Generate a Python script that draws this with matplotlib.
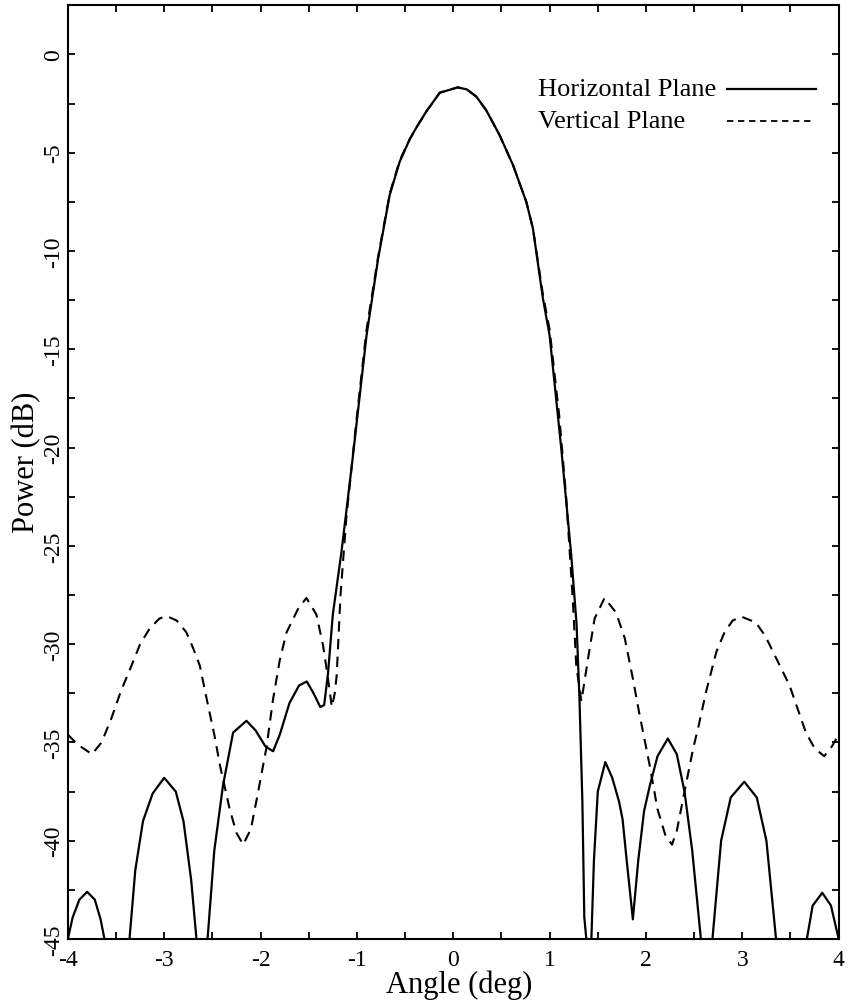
import matplotlib
matplotlib.use("Agg")
import matplotlib.pyplot as plt
from matplotlib.lines import Line2D
from matplotlib.ticker import MultipleLocator

plt.rcParams["font.family"] = ["Liberation Serif", "DejaVu Serif"]
plt.rcParams["axes.unicode_minus"] = False

# Horizontal plane pattern (solid)
horiz_angle = [-4.00, -3.95, -3.88, -3.80, -3.72, -3.66, -3.62, -3.55, -3.36, -3.30,
               -3.22, -3.12, -3.00, -2.88, -2.80, -2.72, -2.665, -2.60, -2.55, -2.48,
               -2.39, -2.285, -2.146, -2.05, -1.95, -1.87, -1.80, -1.70, -1.60, -1.52,
               -1.45, -1.38, -1.34, -1.30, -1.25, -1.16, -1.05, -0.90, -0.78, -0.66,
               -0.556, -0.45, -0.38, -0.279, -0.14, 0.046, 0.14, 0.24, 0.343, 0.48,
               0.62, 0.758, 0.827, 0.93, 1.00, 1.12, 1.225, 1.28, 1.31, 1.34,
               1.36, 1.42, 1.46, 1.50, 1.578, 1.65, 1.72, 1.757, 1.80, 1.864,
               1.92, 1.98, 2.04, 2.12, 2.227, 2.32, 2.40, 2.48, 2.57, 2.63,
               2.69, 2.78, 2.88, 3.02, 3.15, 3.25, 3.35, 3.50, 3.67, 3.73,
               3.83, 3.92, 4.00]
horiz_power = [-45.0, -43.9, -43.0, -42.6, -43.0, -44.0, -45.0, -48.0, -45.0, -41.5,
               -39.0, -37.6, -36.8, -37.5, -39.0, -42.0, -45.0, -50.0, -45.0, -40.5,
               -37.2, -34.5, -33.9, -34.4, -35.2, -35.45, -34.6, -33.0, -32.1, -31.9,
               -32.5, -33.2, -33.1, -31.5, -28.5, -25.3, -20.8, -14.3, -10.4, -7.16,
               -5.46, -4.3, -3.7, -2.9, -1.95, -1.68, -1.78, -2.15, -2.85, -4.1,
               -5.63, -7.5, -8.86, -12.4, -14.3, -20.0, -25.5, -29.0, -32.8, -38.0,
               -43.9, -47.0, -41.0, -37.5, -36.0, -36.8, -38.0, -38.9, -41.0, -44.0,
               -41.0, -38.5, -37.2, -35.7, -34.8, -35.6, -37.5, -40.5, -45.0, -50.0,
               -45.0, -40.0, -37.8, -37.0, -37.8, -40.0, -45.0, -50.0, -45.0, -43.3,
               -42.65, -43.3, -45.0]

# Vertical plane pattern (dashed)
vert_angle = [-4.00, -3.90, -3.75, -3.65, -3.55, -3.45, -3.34, -3.25, -3.15, -3.05,
              -2.976, -2.87, -2.77, -2.70, -2.63, -2.55, -2.48, -2.42, -2.32, -2.25,
              -2.18, -2.10, -2.04, -1.94, -1.87, -1.80, -1.73, -1.61, -1.524, -1.42,
              -1.35, -1.30, -1.26, -1.23, -1.21, -1.17, -1.11, -1.00, -0.90, -0.78,
              -0.66, -0.556, -0.45, -0.38, -0.279, -0.14, 0.046, 0.14, 0.24, 0.343,
              0.48, 0.62, 0.758, 0.827, 0.93, 1.00, 1.10, 1.173, 1.24, 1.277,
              1.33, 1.40, 1.467, 1.57, 1.69, 1.78, 1.864, 1.93, 2.04, 2.12,
              2.20, 2.27, 2.32, 2.38, 2.49, 2.54, 2.625, 2.73, 2.815, 2.90,
              2.99, 3.14, 3.24, 3.32, 3.49, 3.66, 3.75, 3.85, 3.93, 4.00]
vert_power = [-34.6, -35.1, -35.6, -35.0, -33.8, -32.4, -31.1, -30.0, -29.2, -28.7,
              -28.57, -28.8, -29.4, -30.2, -31.1, -33.0, -34.6, -36.2, -38.4, -39.6,
              -40.2, -39.4, -37.9, -35.3, -32.8, -30.8, -29.4, -28.2, -27.65, -28.5,
              -30.1, -31.75, -33.2, -32.5, -31.6, -27.5, -23.6, -18.4, -14.0, -10.3,
              -7.1, -5.4, -4.3, -3.7, -2.9, -1.95, -1.68, -1.78, -2.15, -2.85,
              -4.1, -5.63, -7.5, -8.86, -12.2, -14.0, -18.4, -22.6, -27.7, -31.1,
              -32.9, -30.7, -28.7, -27.65, -28.4, -29.7, -31.75, -33.5, -36.2, -38.4,
              -39.7, -40.2, -39.5, -38.0, -35.3, -34.3, -32.4, -30.4, -29.4, -28.8,
              -28.6, -28.9, -29.6, -30.4, -32.1, -34.5, -35.3, -35.7, -35.2, -34.6]

fig = plt.figure(figsize=(8.48, 10.03), dpi=100)
ax = fig.add_axes([0.080, 0.0628, 0.909, 0.931])

ax.plot(horiz_angle, horiz_power, color="black", lw=1.6)
ax.plot(vert_angle, vert_power, color="black", lw=1.5, dashes=(5, 3.5))

ax.set_xlim(-4, 4)
ax.set_ylim(-45, 2.5)

ax.xaxis.set_major_locator(MultipleLocator(1))
ax.xaxis.set_minor_locator(MultipleLocator(0.5))
ax.yaxis.set_major_locator(MultipleLocator(5))
ax.yaxis.set_minor_locator(MultipleLocator(2.5))
ax.tick_params(which="both", direction="in", top=True, right=True,
               length=5, width=1.3, labelsize=17)
ax.tick_params(axis="y", labelrotation=90, pad=3)
ax.tick_params(axis="x", pad=7)
for lab in ax.get_yticklabels():
    lab.set_verticalalignment("center")

for sp in ax.spines.values():
    sp.set_linewidth(1.5)

ax.set_xlabel("Angle (deg)", fontsize=22)
ax.set_ylabel("Power (dB)", fontsize=22)
ax.xaxis.set_label_coords(0.508, -0.033)
ax.yaxis.set_label_coords(-0.034, 0.512)

# legend drawn as in the original: left-aligned labels, keys to the right
ax.text(0.610, 0.910, "Horizontal Plane", transform=ax.transAxes,
        fontsize=19, va="center", ha="left")
ax.text(0.610, 0.876, "Vertical Plane", transform=ax.transAxes,
        fontsize=19, va="center", ha="left")
ax.add_line(Line2D([0.855, 0.971], [0.910, 0.910], transform=ax.transAxes,
                   color="black", lw=1.6))
ax.add_line(Line2D([0.855, 0.965], [0.876, 0.876], transform=ax.transAxes,
                   color="black", lw=1.3, dashes=(3.5, 2.6)))

fig.savefig("out.png", dpi=100)
